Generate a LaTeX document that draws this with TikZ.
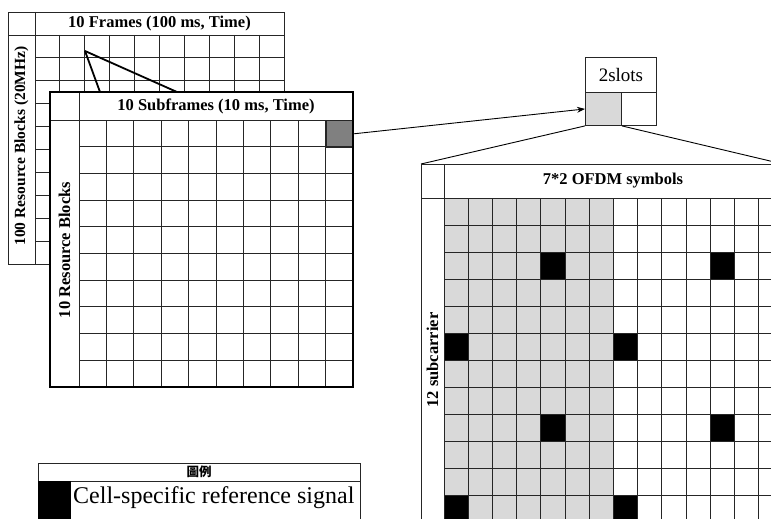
\documentclass[tikz,border=0pt]{standalone}
\usepackage{fontspec}
\setmainfont{Liberation Serif}
\newfontfamily\cjk{Noto Sans CJK TC}
\usetikzlibrary{arrows.meta, positioning, calc}

\tikzset{
    gridline/.style={draw=black!85, line width=0.9pt},
    headtext/.style={font=\fontsize{16.5}{18}\selectfont\bfseries, inner sep=0pt},
    cellbox/.style={draw=black!85, line width=0.9pt, inner sep=0pt, anchor=north west},
    zoomline/.style={draw=black, line width=0.9pt}
}

\begin{document}
\begin{tikzpicture}[x=1pt, y=-1pt]
    \clip (0,0) rectangle (771,519);
    \fill[white] (0,0) rectangle (771,519);

    % Frames (back grid)
    \def\fx{35} \def\fy{35} \def\fw{24.9} \def\fh{22.9}
    \foreach \i in {1,...,9} \draw[gridline] ({\fx+\i*\fw},\fy) -- ({\fx+\i*\fw},264);
    \foreach \j in {1,...,9} \draw[gridline] (\fx,{\fy+\j*\fh}) -- (284,{\fy+\j*\fh});
    \draw[gridline] (8,12) rectangle (284,264);
    \draw[gridline] (8,35) -- (284,35);
    \draw[gridline] (35,12) -- (35,264);
    \node[headtext] (framehead) at (159.5,23.5) {10 Frames (100 ms, Time)};
    \node[headtext, font=\fontsize{15.5}{18}\selectfont\bfseries, rotate=90] (framelab) at (21.5,146) {100 Resource Blocks (20MHz)};

    % Zoom from one frame
    \coordinate (apex) at (85,51);
    \coordinate (zoomA) at (100,92);
    \coordinate (zoomB) at (177,92);
    \draw[line width=1.8pt] (apex) -- (zoomA);
    \draw[line width=1.8pt] (apex) -- (zoomB);

    % Subframes (front grid)
    \def\sx{79} \def\sy{120} \def\sw{27.4} \def\sh{26.7}
    \fill[white] (50,92) rectangle (353,387);
    \node[cellbox, fill=black!50, minimum width=\sw pt, minimum height=\sh pt] (gcell) at ({\sx+9*\sw},\sy) {};
    \foreach \i in {1,...,9} \draw[gridline] ({\sx+\i*\sw},\sy) -- ({\sx+\i*\sw},387);
    \foreach \j in {1,...,9} \draw[gridline] (\sx,{\sy+\j*\sh}) -- (353,{\sy+\j*\sh});
    \draw[gridline] (50,120) -- (353,120);
    \draw[gridline] (79,92) -- (79,387);
    \draw[line width=2.4pt] (50,92) rectangle (353,387);
    \node[headtext] (subhead) at (216,106) {10 Subframes (10 ms, Time)};
    \node[headtext, rotate=90] (sublab) at (64.5,250) {10 Resource Blocks};

    % 2 slots
    \node[cellbox, minimum width=71pt, minimum height=35pt, font=\fontsize{19}{21}\selectfont] (slothead) at (585,57) {2slots};
    \node[cellbox, fill=black!15, minimum width=36pt, minimum height=33pt] (slotA) at (585,92) {};
    \node[cellbox, minimum width=35pt, minimum height=33pt] (slotB) at (621,92) {};
    \draw[-{Stealth[length=8pt, width=6pt]}, line width=0.9pt] (gcell.east) -- (slotA.west);

    % OFDM symbols grid
    \def\ox{444} \def\oy{198} \def\ow{24.2} \def\oh{27}
    \coordinate (ofdmNW) at (421,164);
    \coordinate (ofdmNE) at ({\ox+14*\ow},164);
    \draw[zoomline] (slotA.south west) -- (ofdmNW);
    \draw[zoomline] (slotA.south east) -- (ofdmNE);
    \fill[black!15] (\ox,\oy) rectangle ({\ox+7*\ow},{\oy+12*\oh});
    \foreach \c/\r in {4/2, 11/2, 0/5, 7/5, 4/8, 11/8, 0/11, 7/11}
        \fill[black] ({\ox+\c*\ow},{\oy+\r*\oh}) rectangle ({\ox+(\c+1)*\ow},{\oy+(\r+1)*\oh});
    \foreach \i in {1,...,13} \draw[gridline] ({\ox+\i*\ow},\oy) -- ({\ox+\i*\ow},{\oy+12*\oh});
    \foreach \j in {1,...,11} \draw[gridline] (\ox,{\oy+\j*\oh}) -- ({\ox+14*\ow},{\oy+\j*\oh});
    \draw[gridline] (ofdmNW) rectangle ({\ox+14*\ow},{\oy+12*\oh});
    \draw[gridline] (421,\oy) -- ({\ox+14*\ow},\oy);
    \draw[gridline] (\ox,164) -- (\ox,{\oy+12*\oh});
    \node[headtext] (ofdmhead) at (613,181) {7*2 OFDM symbols};
    \node[headtext, rotate=90] (ofdmlab) at (432.5,360) {12 subcarrier};

    % Legend
    \draw[gridline] (38,463) rectangle (360,540);
    \draw[gridline] (38,481) -- (360,481);
    \node[font=\fontsize{12.5}{14}\selectfont\cjk\bfseries, inner sep=0pt] (legendhead) at (199,472) {圖例};
    \node[cellbox, draw=black, fill=black, minimum width=32pt, minimum height=50pt] (legkey) at (38,481) {};
    \node[font=\fontsize{24}{26}\selectfont, inner sep=0pt, anchor=base west] (legtext) at (73,503) {Cell-specific reference signal};
\end{tikzpicture}
\end{document}
